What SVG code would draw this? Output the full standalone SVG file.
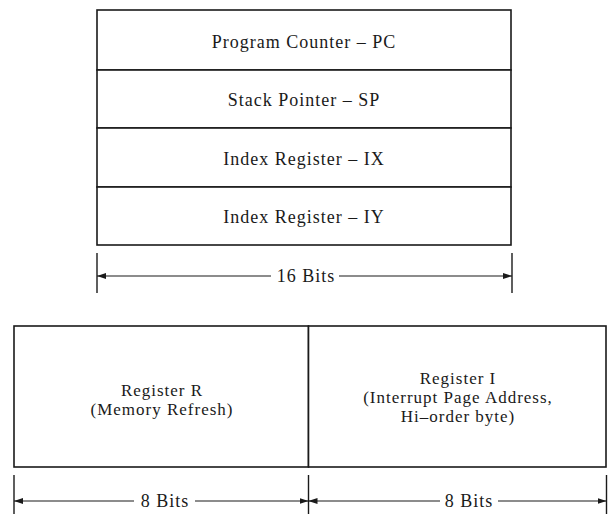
<svg xmlns="http://www.w3.org/2000/svg" width="610" height="514" viewBox="0 0 610 514">
  <defs>
    <marker id="arr" viewBox="0 0 9 6" refX="9" refY="3" markerWidth="9" markerHeight="6" markerUnits="userSpaceOnUse" orient="auto-start-reverse">
      <path d="M0,0 L9,3 L0,6 z" fill="#1a1a1a"/>
    </marker>
    <style>
      .box { fill: #ffffff; stroke: #1a1a1a; stroke-width: 1.6; }
      .lbl { font-family: "Liberation Serif", "Times New Roman", serif; font-size: 18px; letter-spacing: 1px; fill: #1a1a1a; text-anchor: middle; }
      .sm { font-size: 17px; }
      .dim { stroke: #1a1a1a; stroke-width: 1.2; fill: none; }
      .tick { stroke: #1a1a1a; stroke-width: 1.4; }
    </style>
  </defs>
  <rect width="610" height="514" fill="#ffffff"/>

  <g id="pc">
    <rect class="box" x="97" y="10" width="414" height="60"/>
    <text class="lbl" x="304" y="48">Program Counter – PC</text>
  </g>
  <g id="sp">
    <rect class="box" x="97" y="70" width="414" height="58"/>
    <text class="lbl" x="304" y="106">Stack Pointer – SP</text>
  </g>
  <g id="ix">
    <rect class="box" x="97" y="128" width="414" height="59"/>
    <text class="lbl" x="304" y="165">Index Register – IX</text>
  </g>
  <g id="iy">
    <rect class="box" x="97" y="187" width="414" height="58"/>
    <text class="lbl" x="304" y="223">Index Register – IY</text>
  </g>

  <g id="reg-r">
    <rect class="box" x="14" y="326" width="294.5" height="141"/>
    <text class="lbl sm" x="162" y="396">Register R</text>
    <text class="lbl sm" x="162" y="415">(Memory Refresh)</text>
  </g>
  <g id="reg-i">
    <rect class="box" x="308.5" y="326" width="297.5" height="141"/>
    <text class="lbl sm" x="458" y="384">Register I</text>
    <text class="lbl sm" x="458" y="403">(Interrupt Page Address,</text>
    <text class="lbl sm" x="458" y="422">Hi–order byte)</text>
  </g>

  <g id="connectors">
    <line class="tick" x1="97" y1="253" x2="97" y2="293"/>
    <line class="tick" x1="512" y1="253" x2="512" y2="293"/>
    <line class="dim" x1="271" y1="276" x2="97" y2="276" marker-end="url(#arr)"/>
    <line class="dim" x1="339" y1="276" x2="512" y2="276" marker-end="url(#arr)"/>
    <text class="lbl" x="306" y="282">16 Bits</text>

    <line class="tick" x1="14" y1="475" x2="14" y2="514"/>
    <line class="tick" x1="308.5" y1="475" x2="308.5" y2="514"/>
    <line class="tick" x1="606.5" y1="475" x2="606.5" y2="514"/>
    <line class="dim" x1="134" y1="501" x2="14" y2="501" marker-end="url(#arr)"/>
    <line class="dim" x1="195" y1="501" x2="308.5" y2="501" marker-end="url(#arr)"/>
    <text class="lbl" x="165" y="507">8 Bits</text>
    <line class="dim" x1="440" y1="501" x2="308.5" y2="501" marker-end="url(#arr)"/>
    <line class="dim" x1="498" y1="501" x2="606.5" y2="501" marker-end="url(#arr)"/>
    <text class="lbl" x="469" y="507">8 Bits</text>
  </g>
</svg>
